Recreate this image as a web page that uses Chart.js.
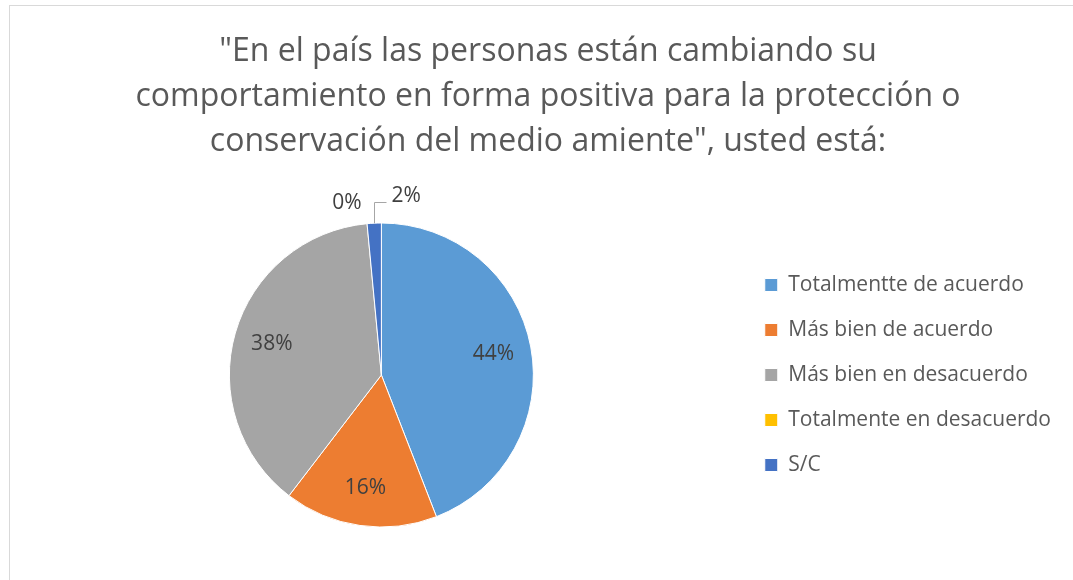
<!DOCTYPE html>
<html><head><meta charset="utf-8">
<script src="https://cdn.jsdelivr.net/npm/chart.js@4.4.1/dist/chart.umd.min.js"></script>
<style>
html,body{margin:0;padding:0;background:#fff;overflow:hidden;width:1073px;height:580px;}
#frame{position:absolute;left:9px;top:5px;width:1076px;height:590px;border:1px solid #d9d9d9;background:#fff;}
canvas{display:block;}
</style></head><body>
<div id="frame"><canvas id="c" width="1076" height="590"></canvas></div>
<script>
const titleLines = [
  '"En el país las personas están cambiando su',
  'comportamiento en forma positiva para la protección o',
  'conservación del medio amiente", usted está:'
];
const categories = ['Totalmentte de acuerdo', 'Más bien de acuerdo', 'Más bien en desacuerdo', 'Totalmente en desacuerdo', 'S/C'];
const percentages = [44.1, 16.3, 38.1, 0, 1.5];
const colors = ['#5B9BD5', '#ED7D31', '#A5A5A5', '#FFC000', '#4472C4'];

const FONT = '"Open Sans", "Noto Sans", sans-serif';

const titlePlugin = {
  id: 'excelTitle',
  afterDraw(chart) {
    const ctx = chart.ctx;
    ctx.save();
    ctx.font = '32px ' + FONT;
    ctx.fillStyle = '#595959';
    ctx.textAlign = 'center';
    ctx.textBaseline = 'alphabetic';
    titleLines.forEach((t, i) => ctx.fillText(t, chart.width / 2, 55 + i * 45));
    ctx.restore();
  }
};

const outside = {3: {dx: -18, dy: 1}, 4: {dx: 33, dy: -5, leader: true}};

const labelPlugin = {
  id: 'pctLabels',
  afterDatasetsDraw(chart) {
    const ctx = chart.ctx;
    const meta = chart.getDatasetMeta(0);
    const data = chart.data.datasets[0].data;
    ctx.save();
    ctx.font = '21px ' + FONT;
    ctx.fillStyle = '#404040';
    ctx.textAlign = 'center';
    ctx.textBaseline = 'middle';
    meta.data.forEach((arc, i) => {
      const p = arc.getProps(['x', 'y', 'startAngle', 'endAngle', 'outerRadius'], true);
      const mid = (p.startAngle + p.endAngle) / 2;
      const txt = Math.round(data[i]) + '%';
      if (!outside[i]) {
        const r = p.outerRadius * 0.75;
        ctx.fillText(txt, p.x + Math.cos(mid) * r, p.y + Math.sin(mid) * r);
      } else {
        const o = outside[i];
        const r = p.outerRadius + 22;
        const lx = p.x + Math.cos(mid) * r + o.dx;
        const ly = p.y + Math.sin(mid) * r + o.dy;
        ctx.fillText(txt, lx, ly);
        if (o.leader) {
          const w = ctx.measureText(txt).width;
          const ex = p.x + Math.cos(mid) * p.outerRadius;
          const ey = p.y + Math.sin(mid) * p.outerRadius;
          ctx.beginPath();
          ctx.strokeStyle = '#a6a6a6';
          ctx.lineWidth = 1;
          ctx.moveTo(Math.round(ex) + 0.5, ey);
          ctx.lineTo(Math.round(ex) + 0.5, Math.round(ly + 6) + 0.5);
          ctx.lineTo(lx - w / 2 - 5, Math.round(ly + 6) + 0.5);
          ctx.stroke();
        }
      }
    });
    ctx.restore();
  }
};

new Chart(document.getElementById('c'), {
  type: 'pie',
  data: {
    labels: categories,
    datasets: [{
      data: percentages,
      backgroundColor: colors,
      borderColor: '#ffffff',
      borderWidth: 1,
      hoverOffset: 0
    }]
  },
  options: {
    responsive: false,
    animation: false,
    devicePixelRatio: 1,
    radius: 152,
    layout: {padding: {top: 217, bottom: 69, left: 12, right: 25}},
    plugins: {
      title: {display: false},
      tooltip: {enabled: false},
      legend: {
        position: 'right',
        labels: {
          boxWidth: 13,
          boxHeight: 13,
          padding: 24,
          color: '#595959',
          font: {family: FONT, size: 21}
        }
      }
    }
  },
  plugins: [titlePlugin, labelPlugin]
});
</script>
</body></html>
